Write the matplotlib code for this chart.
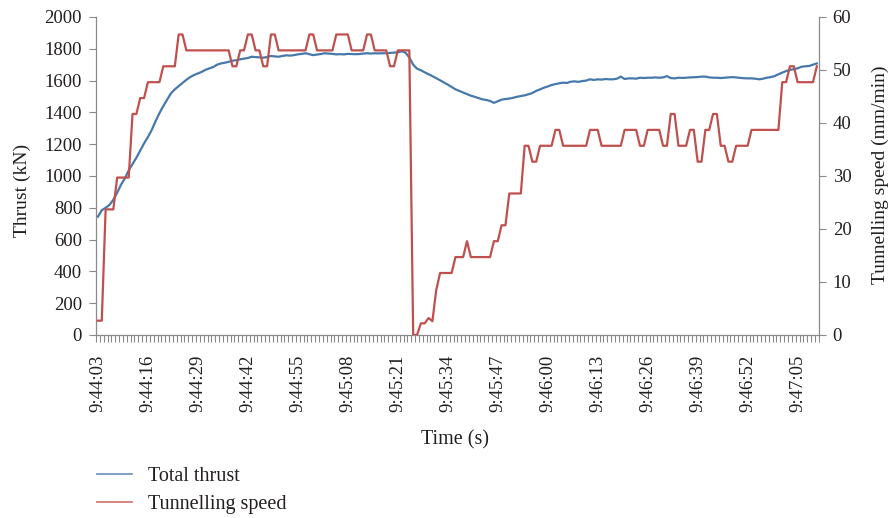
import matplotlib
matplotlib.use("Agg")
import matplotlib.pyplot as plt
from matplotlib.lines import Line2D
import numpy as np

plt.rcParams["font.family"] = ["Liberation Serif", "DejaVu Serif"]

# one sample per second, starting at 9:44:03
START_H, START_M, START_S = 9, 44, 3
LABEL_EVERY = 13

thrust_kn = [
    744, 785, 800, 818, 850, 895, 945, 985, 1035, 1075,
    1115, 1160, 1205, 1245, 1290, 1345, 1395, 1440, 1480, 1520,
    1545, 1565, 1585, 1605, 1622, 1635, 1645, 1655, 1668, 1677,
    1685, 1700, 1708, 1712, 1718, 1725, 1728, 1734, 1738, 1742,
    1750, 1748, 1746, 1744, 1748, 1755, 1752, 1750, 1755, 1759,
    1757, 1760, 1765, 1768, 1772, 1766, 1760, 1764, 1767, 1772,
    1770, 1768, 1765, 1766, 1765, 1768, 1767, 1766, 1767, 1770,
    1772, 1770, 1772, 1771, 1772, 1772, 1774, 1776, 1778, 1784,
    1776, 1745, 1700, 1675, 1665, 1652, 1640, 1628, 1615, 1602,
    1588, 1575, 1560, 1545, 1535, 1525, 1515, 1505, 1498, 1490,
    1482, 1478, 1472, 1460, 1470, 1480, 1484, 1487, 1492, 1498,
    1503, 1507, 1514, 1522, 1535, 1545, 1555, 1563, 1572, 1578,
    1583, 1587, 1585, 1593, 1595, 1592, 1597, 1600, 1608, 1604,
    1608, 1606, 1610, 1608, 1608, 1612, 1625, 1610, 1614, 1614,
    1612, 1618, 1616, 1618, 1618, 1620, 1618, 1620, 1628, 1616,
    1614, 1618, 1617, 1618, 1620, 1621, 1622, 1625, 1625, 1620,
    1618, 1618, 1616, 1618, 1620, 1622, 1620, 1617, 1615, 1614,
    1614, 1612, 1608, 1612, 1618, 1622, 1628, 1640, 1650, 1660,
    1667, 1672, 1677, 1687, 1690, 1692, 1700, 1708,
]

speed_mm_min = [
    2.7, 2.7, 23.7, 23.7, 23.7, 29.7, 29.7, 29.7, 29.7, 41.7,
    41.7, 44.7, 44.7, 47.7, 47.7, 47.7, 47.7, 50.7, 50.7, 50.7,
    50.7, 56.7, 56.7, 53.7, 53.7, 53.7, 53.7, 53.7, 53.7, 53.7,
    53.7, 53.7, 53.7, 53.7, 53.7, 50.7, 50.7, 53.7, 53.7, 56.7,
    56.7, 53.7, 53.7, 50.7, 50.7, 56.7, 56.7, 53.7, 53.7, 53.7,
    53.7, 53.7, 53.7, 53.7, 53.7, 56.7, 56.7, 53.7, 53.7, 53.7,
    53.7, 53.7, 56.7, 56.7, 56.7, 56.7, 53.7, 53.7, 53.7, 53.7,
    56.7, 56.7, 53.7, 53.7, 53.7, 53.7, 50.7, 50.7, 53.7, 53.7,
    53.7, 53.7, 0.0, 0.0, 2.2, 2.2, 3.2, 2.6, 8.5, 11.7,
    11.7, 11.7, 11.7, 14.7, 14.7, 14.7, 17.7, 14.7, 14.7, 14.7,
    14.7, 14.7, 14.7, 17.7, 17.7, 20.7, 20.7, 26.7, 26.7, 26.7,
    26.7, 35.7, 35.7, 32.7, 32.7, 35.7, 35.7, 35.7, 35.7, 38.7,
    38.7, 35.7, 35.7, 35.7, 35.7, 35.7, 35.7, 35.7, 38.7, 38.7,
    38.7, 35.7, 35.7, 35.7, 35.7, 35.7, 35.7, 38.7, 38.7, 38.7,
    38.7, 35.7, 35.7, 38.7, 38.7, 38.7, 38.7, 35.7, 35.7, 41.7,
    41.7, 35.7, 35.7, 35.7, 38.7, 38.7, 32.7, 32.7, 38.7, 38.7,
    41.7, 41.7, 35.7, 35.7, 32.7, 32.7, 35.7, 35.7, 35.7, 35.7,
    38.7, 38.7, 38.7, 38.7, 38.7, 38.7, 38.7, 38.7, 47.7, 47.7,
    50.7, 50.7, 47.7, 47.7, 47.7, 47.7, 47.7, 50.7,
]

BLUE = "#4679ab"
RED = "#c0504d"
AXIS_GREY = "#8a8a8a"
TEXT = "#231f20"


def clock(sec):
    total = START_H * 3600 + START_M * 60 + START_S + sec
    return "%d:%02d:%02d" % (total // 3600, (total // 60) % 60, total % 60)


n = len(thrust_kn)
idx = np.arange(n)

fig = plt.figure(figsize=(8.89, 5.18), dpi=100)
ax = fig.add_axes([0.108, 0.3533, 0.813, 0.6139])
ax2 = ax.twinx()

ax.plot(idx, thrust_kn, color=BLUE, lw=1.6, zorder=3, solid_joinstyle="round")
ax2.plot(idx, speed_mm_min, color=RED, lw=1.6, zorder=3, solid_joinstyle="round")

ax.set_xlim(-0.5, n - 0.5)
ax.set_ylim(0, 2000)
ax2.set_ylim(0, 60)
ax.set_yticks(np.arange(0, 2001, 200))
ax2.set_yticks(np.arange(0, 61, 10))

ax.set_xticks(np.arange(0, n, LABEL_EVERY))
ax.set_xticklabels([clock(i) for i in range(0, n, LABEL_EVERY)], rotation=90)
ax.set_xticks(np.arange(-0.5, n, 1), minor=True)
ax.tick_params(axis="x", which="major", length=0, pad=14, labelsize=13.5, labelcolor=TEXT)
ax.tick_params(axis="x", which="minor", length=5, width=0.8, color=AXIS_GREY)
ax.tick_params(axis="y", length=5, width=0.8, color=AXIS_GREY, pad=5,
               labelsize=13.5, labelcolor=TEXT)
ax2.tick_params(axis="y", length=5, width=0.8, color=AXIS_GREY, pad=5,
                labelsize=13.5, labelcolor=TEXT)

for a in (ax, ax2):
    a.spines["top"].set_visible(False)
    for side in ("left", "right", "bottom"):
        a.spines[side].set_color(AXIS_GREY)
        a.spines[side].set_linewidth(0.9)
ax.spines["right"].set_visible(False)
ax2.spines["left"].set_visible(False)
ax2.spines["bottom"].set_visible(False)

ax.set_xlabel("Time (s)", fontsize=14.5, color=TEXT)
ax.xaxis.set_label_coords(0.497, -0.30)
ax.set_ylabel("Thrust (kN)", fontsize=14, color=TEXT)
ax.yaxis.set_label_coords(-0.09, 0.456)
ax2.set_ylabel("Tunnelling speed (mm/min)", fontsize=14, color=TEXT)
ax2.yaxis.set_label_coords(1.073, 0.505)

handles = [
    Line2D([], [], color=BLUE, lw=1.3, alpha=0.75),
    Line2D([], [], color=RED, lw=1.3, alpha=0.75),
]
fig.legend(handles, ["Total thrust", "Tunnelling speed"],
           loc="upper left", bbox_to_anchor=(0.109, 0.098), frameon=False,
           fontsize=14.5, handlelength=1.75, handletextpad=0.8, labelspacing=0.45,
           borderaxespad=0, borderpad=0, labelcolor=TEXT)

fig.savefig("out.png", dpi=100)
